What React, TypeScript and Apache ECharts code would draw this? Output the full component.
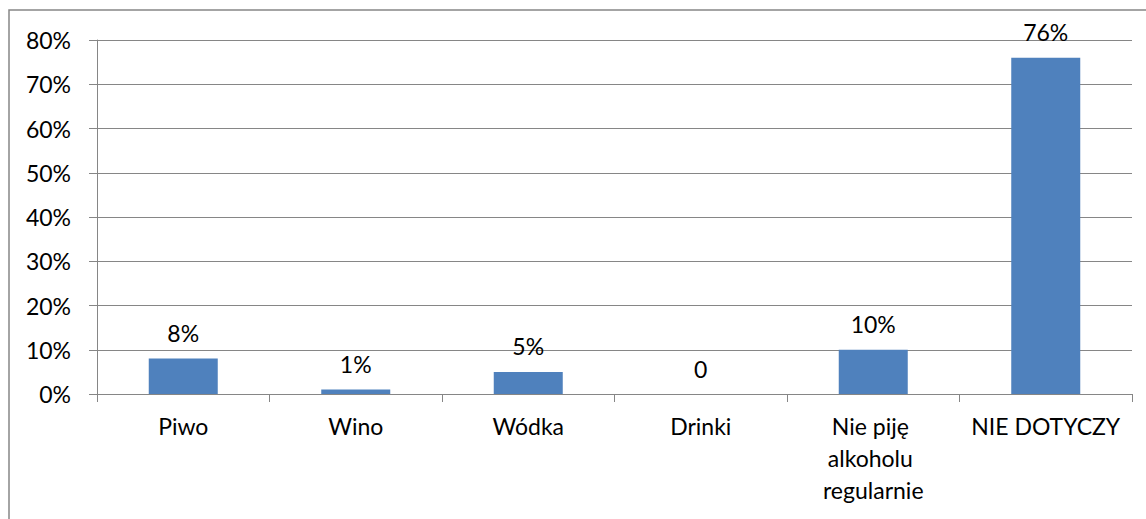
import React, { useEffect, useRef } from "react";
import * as echarts from "echarts";

const categories = ["Piwo", "Wino", "Wódka", "Drinki", "Nie piję alkoholu regularnie", "NIE DOTYCZY"];
const values = [8, 1, 5, 0, 10, 76];
const yTicks = { min: 0, max: 80, interval: 10 };

const FONT = "Lato, 'Noto Sans', sans-serif";
const GRAY = "#868686";

export default function App() {
  const ref = useRef<HTMLDivElement>(null);
  useEffect(() => {
    if (!ref.current) return;
    const chart = echarts.init(ref.current, undefined, { renderer: "svg" });
    chart.setOption({
      animation: false,
      backgroundColor: "#ffffff",
      textStyle: { fontFamily: FONT },
      graphic: [
        {
          type: "rect",
          shape: { x: 9, y: 10, width: 1300, height: 700 },
          style: { fill: "none", stroke: GRAY, lineWidth: 1.5 },
          silent: true,
        },
      ],
      grid: { left: 97, right: 14, top: 40, bottom: 125, containLabel: false },
      xAxis: {
        type: "category",
        data: categories,
        axisLine: { show: true, lineStyle: { color: GRAY, width: 1 } },
        axisTick: { show: true, length: 8, lineStyle: { color: GRAY } },
        axisLabel: {
          color: "#000",
          fontFamily: FONT,
          fontSize: 23,
          margin: 16,
          lineHeight: 32,
          width: 152,
          overflow: "break",
          interval: 0,
        },
      },
      yAxis: {
        type: "value",
        min: yTicks.min,
        max: yTicks.max,
        interval: yTicks.interval,
        axisLine: { show: true, lineStyle: { color: GRAY, width: 1 } },
        axisTick: { show: true, length: 8, lineStyle: { color: GRAY } },
        splitLine: { show: true, lineStyle: { color: GRAY, width: 1 } },
        axisLabel: {
          color: "#000",
          fontFamily: FONT,
          fontSize: 23,
          margin: 26,
          formatter: "{value}%",
        },
      },
      series: [
        {
          type: "bar",
          data: values,
          barWidth: "40%",
          itemStyle: { color: "#4F81BD" },
          label: {
            show: true,
            position: "top",
            distance: 14,
            color: "#000",
            fontFamily: FONT,
            fontSize: 23,
            formatter: (p: any) => (p.value === 0 ? "0" : p.value + "%"),
          },
        },
      ],
    });
    return () => chart.dispose();
  }, []);
  return (
    <div
      ref={ref}
      style={{ position: "absolute", left: 0, top: 0, width: 1146, height: 519 }}
    />
  );
}
